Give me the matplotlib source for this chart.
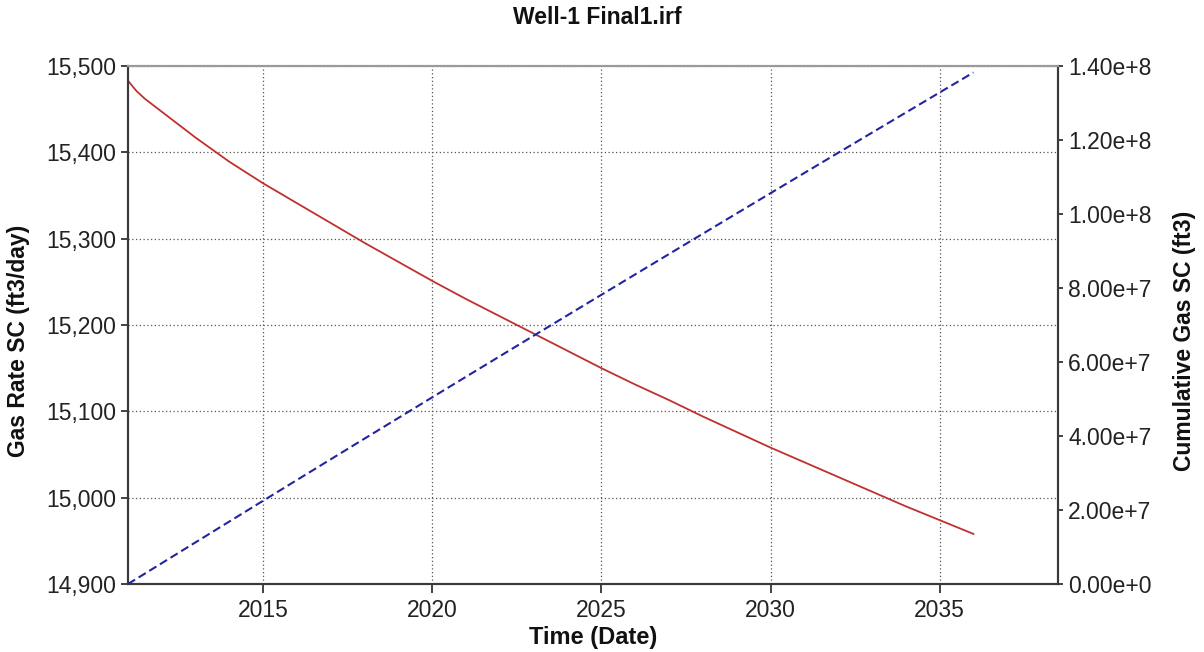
import matplotlib.pyplot as plt
from matplotlib.ticker import FuncFormatter, MultipleLocator

plt.rcParams["font.family"] = ["Liberation Sans", "DejaVu Sans"]

# Time in decimal years
years = [2011.0, 2011.25, 2011.5, 2012, 2013, 2014, 2015, 2016, 2017, 2018, 2019,
         2020, 2021, 2022, 2023, 2024, 2025, 2026, 2027, 2028, 2029, 2030,
         2031, 2032, 2033, 2034, 2035, 2036]

# Gas rate SC (ft3/day)
gas_rate = [15483, 15471, 15462, 15447, 15417, 15389, 15364, 15341, 15318, 15295,
            15273, 15251, 15230, 15210, 15190, 15170, 15150, 15131, 15113, 15094,
            15076, 15058, 15041, 15024, 15007, 14990, 14974, 14958]

# Cumulative gas SC (ft3)
cum_years = [2011, 2012, 2013, 2014, 2015, 2016, 2017, 2018, 2019, 2020, 2021,
             2022, 2023, 2024, 2025, 2026, 2027, 2028, 2029, 2030, 2031, 2032,
             2033, 2034, 2035, 2036]
cum_gas = [0, 5.63e6, 1.127e7, 1.690e7, 2.252e7, 2.813e7, 3.373e7, 3.932e7,
           4.490e7, 5.047e7, 5.603e7, 6.158e7, 6.712e7, 7.265e7, 7.817e7,
           8.368e7, 8.918e7, 9.467e7, 1.0015e8, 1.0562e8, 1.1108e8, 1.1653e8,
           1.2197e8, 1.2740e8, 1.3283e8, 1.3824e8]

x_ticks = [2015, 2020, 2025, 2030, 2035]


def sci_label(v, pos):
    if v == 0:
        return "0.00e+0"
    exp = len(str(int(abs(v)))) - 1
    return f"{v / 10 ** exp:.2f}e+{exp}"


fig = plt.figure(figsize=(12.04, 6.52), dpi=100)
fig.patch.set_facecolor("white")
ax = fig.add_axes([0.1063, 0.1043, 0.7724, 0.7945])
ax2 = ax.twinx()

ax.plot(years, gas_rate, color="#c0302f", linewidth=1.3, zorder=3)
ax2.plot(cum_years, cum_gas, color="#2424a0", linewidth=1.5,
         linestyle=(0, (4, 2)), zorder=3)

ax.set_xlim(2011, 2038.5)
ax.set_ylim(14900, 15500)
ax2.set_ylim(0, 1.4e8)

ax.set_xticks(x_ticks)
ax.yaxis.set_major_locator(MultipleLocator(100))
ax.yaxis.set_major_formatter(FuncFormatter(lambda v, p: f"{int(v):,}"))
ax2.yaxis.set_major_locator(MultipleLocator(2e7))
ax2.yaxis.set_major_formatter(FuncFormatter(sci_label))

ax.grid(True, linestyle=(0, (1, 2)), color="#555555", linewidth=0.9)

for a in (ax, ax2):
    a.spines["top"].set_color("#9a9a9a")
    a.spines["top"].set_linewidth(1.5)
    for s in ("left", "right", "bottom"):
        a.spines[s].set_color("#3a3a3a")
        a.spines[s].set_linewidth(1.5)

ax.tick_params(axis="x", labelsize=16.5, colors="#222222", direction="out",
               length=6.5, width=1.2, pad=4.5)
ax.tick_params(axis="y", labelsize=16.5, colors="#222222", direction="out",
               length=5.4, width=1.2, pad=3)
ax2.tick_params(axis="y", labelsize=16.5, colors="#222222", direction="out",
                length=3.8, width=1.2, pad=3.5)

fig.text(597 / 1204, 1 - 18 / 652, "Well-1 Final1.irf", fontsize=16.5,
         fontweight="bold", ha="center", va="center", color="#111111")
ax.set_xlabel("Time (Date)", fontsize=17, fontweight="bold", color="#111111")
ax.xaxis.set_label_coords(0.5, -0.104)
ax.xaxis.label.set_va("center")
ax.set_ylabel("Gas Rate SC (ft3/day)", fontsize=16.5, fontweight="bold",
              color="#111111")
ax.yaxis.set_label_coords(-0.118, 0.47)
ax.yaxis.label.set_va("center")
ax2.set_ylabel("Cumulative Gas SC (ft3)", fontsize=16.5, fontweight="bold",
               color="#111111")
ax2.yaxis.set_label_coords(1.136, 0.47)
ax2.yaxis.label.set_va("center")

plt.savefig("out.png", dpi=100)
